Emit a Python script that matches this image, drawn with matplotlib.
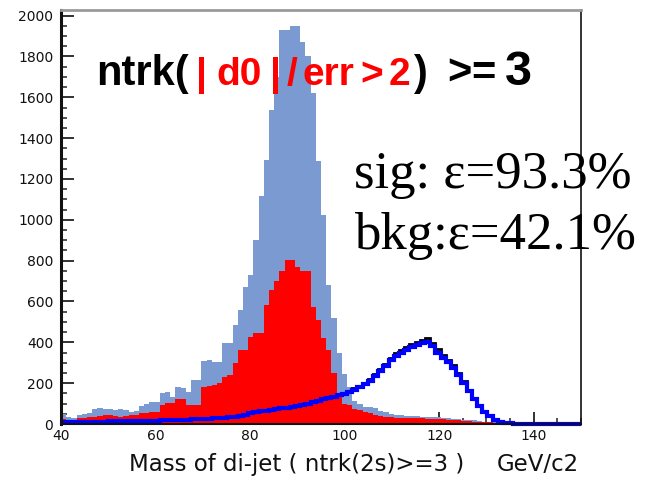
import numpy as np
import matplotlib
matplotlib.use("Agg")
import matplotlib.pyplot as plt
from matplotlib.ticker import MultipleLocator

# di-jet mass histograms: 100 bins from 40 to 150 GeV/c2
mass_lo, mass_hi, n_bins = 40.0, 150.0, 100

# background before the ntrk cut (light blue fill)
bkg_all = [
    50, 35, 30, 45, 50, 55, 75, 78, 72, 72,
    70, 72, 70, 60, 62, 88, 100, 109, 109, 150,
    155, 134, 180, 175, 158, 216, 216, 310, 315, 306,
    306, 396, 396, 485, 559, 673, 731, 902, 1115, 1294,
    1540, 1700, 1931, 1931, 1948, 1948, 1870, 1801, 1622, 1286,
    1025, 682, 520, 350, 245, 180, 115, 100, 85, 82,
    80, 62, 57, 48, 45, 42, 40, 40, 38, 36,
    35, 34, 32, 30, 28, 26, 24, 22, 20, 18,
    15, 12, 10, 8, 6, 4, 3, 2, 2, 1,
    1, 1, 1, 0, 0, 0, 0, 0, 0, 0,
]

# background after the ntrk cut (red fill)
bkg_cut = [
    25, 20, 22, 28, 30, 32, 36, 38, 44, 44,
    38, 36, 38, 44, 42, 54, 56, 60, 60, 93,
    103, 103, 122, 120, 93, 93, 95, 183, 185, 190,
    200, 232, 240, 300, 363, 363, 428, 446, 446, 584,
    657, 698, 747, 804, 804, 771, 747, 747, 575, 510,
    421, 363, 250, 130, 100, 93, 75, 69, 58, 54,
    45, 38, 36, 33, 30, 29, 28, 28, 27, 27,
    26, 25, 25, 24, 22, 20, 18, 16, 14, 12,
    10, 9, 8, 5, 2, 1, 0, 0, 0, 0,
    0, 0, 0, 0, 0, 0, 0, 0, 0, 0,
]

# signal before the cut (black line)
sig_all = [
    9, 9, 10, 10, 11, 11, 12, 12, 13, 13,
    14, 14, 15, 15, 16, 16, 17, 17, 18, 19,
    20, 21, 21, 22, 23, 24, 25, 26, 27, 28,
    29, 30, 33, 36, 41, 46, 54, 60, 64, 68,
    72, 76, 79, 83, 88, 93, 98, 104, 112, 119,
    127, 133, 139, 145, 154, 164, 175, 187, 202, 218,
    245, 268, 293, 324, 346, 364, 377, 390, 403, 412,
    419, 396, 365, 339, 315, 288, 251, 209, 167, 125,
    92, 63, 40, 21, 11, 5, 3, 2, 1, 1,
    1, 0, 0, 0, 0, 0, 0, 0, 0, 0,
]

# signal after the cut (blue line)
sig_cut = [
    8, 9, 9, 10, 10, 11, 11, 12, 12, 13,
    13, 14, 14, 15, 15, 16, 16, 17, 17, 18,
    19, 20, 20, 21, 22, 23, 24, 25, 26, 27,
    28, 29, 32, 35, 40, 45, 52, 58, 62, 66,
    70, 73, 76, 80, 85, 90, 95, 100, 108, 115,
    122, 128, 134, 140, 148, 158, 168, 180, 195, 210,
    235, 258, 282, 312, 333, 350, 363, 375, 388, 396,
    402, 380, 350, 325, 302, 276, 240, 200, 160, 120,
    88, 60, 38, 20, 10, 5, 3, 2, 1, 1,
    1, 0, 0, 0, 0, 0, 0, 0, 0, 0,
]

x_ticks = [40, 60, 80, 100, 120, 140]
y_ticks = [0, 200, 400, 600, 800, 1000, 1200, 1400, 1600, 1800, 2000]

edges = np.linspace(mass_lo, mass_hi, n_bins + 1)

W, H = 650, 478
fig = plt.figure(figsize=(W / 100, H / 100), dpi=100)
fig.patch.set_facecolor("white")

L, R, T, B = 61, 581, 9.5, 424
ax = fig.add_axes([L / W, 1 - B / H, (R - L) / W, (B - T) / H])
ax.set_xlim(mass_lo, mass_hi)
ax.set_ylim(0, 2030)

ax.stairs(bkg_all, edges, fill=True, color="#7b9ad2", lw=0, zorder=1)
ax.stairs(bkg_cut, edges, fill=True, color="#ff0000", lw=0, zorder=1.1)
ax.stairs(sig_all, edges, baseline=None, color="black", lw=2.0, zorder=2, clip_on=False)
ax.stairs(sig_cut, edges, baseline=None, color="#0000ff", lw=3.0, zorder=2.1, clip_on=False)

ax.set_axisbelow(True)
ax.set_xticks(x_ticks)
ax.set_yticks(y_ticks)
ax.set_xticklabels([str(v) for v in x_ticks])
ax.set_yticklabels([str(v) for v in y_ticks])
ax.xaxis.set_minor_locator(MultipleLocator(5))
ax.yaxis.set_minor_locator(MultipleLocator(50))
ax.tick_params(which="major", direction="in", length=9, width=1.3, color="#222222",
               labelsize=10, labelcolor="#111111")
ax.tick_params(which="minor", direction="in", length=4.5, width=1.1, color="#222222")
ax.tick_params(axis="y", which="both", pad=5.5)
ax.tick_params(axis="x", which="both", pad=3.5)
for lab in ax.get_xticklabels() + ax.get_yticklabels():
    lab.set_family("DejaVu Sans")

ax.spines["left"].set_linewidth(2.2)
ax.spines["left"].set_color("#111111")
ax.spines["bottom"].set_linewidth(1.5)
ax.spines["bottom"].set_color("#111111")
ax.spines["right"].set_linewidth(1.2)
ax.spines["right"].set_color("#111111")
ax.spines["top"].set_linewidth(2.0)
ax.spines["top"].set_color("#9a9a9a")

# axis title
fig.text(129 / W, 1 - 471 / H, "Mass of di-jet ( ntrk(2s)>=3 )", family="DejaVu Sans",
         fontsize=16.5, color="#111111", ha="left", va="baseline")
fig.text(579 / W, 1 - 471 / H, "GeV/c2", family="DejaVu Sans",
         fontsize=16.5, color="#111111", ha="right", va="baseline")

# cut description: black selection text with the red impact-parameter condition
base = 1 - 85 / H
sans_bold = dict(family="Liberation Sans", weight="bold", va="baseline")
pieces = [
    (96, "ntrk(", "black", 30),
    (196, "|", "#ff0000", 28),
    (216, "d0", "#ff0000", 28),
    (270, "|", "#ff0000", 28),
    (287, "/", "#ff0000", 28),
    (302, "err", "#ff0000", 28),
    (360, ">", "#ff0000", 28),
    (389, "2", "#ff0000", 28),
    (414, ")", "black", 30),
    (447, ">", "black", 30),
    (471, "=", "black", 30),
    (505, "3", "black", 35),
]
for px, s, col, size in pieces:
    fig.text(px / W, base, s, color=col, fontsize=size, **sans_bold)

# efficiencies
serif = dict(family="Liberation Serif", fontsize=38, color="black", va="baseline")
fig.text(354 / W, 1 - 188 / H, "sig: ε=93.3%", **serif)
fig.text(354 / W, 1 - 249 / H, "bkg:ε=42.1%", **serif)

fig.savefig("out.png", dpi=100, facecolor="white")
